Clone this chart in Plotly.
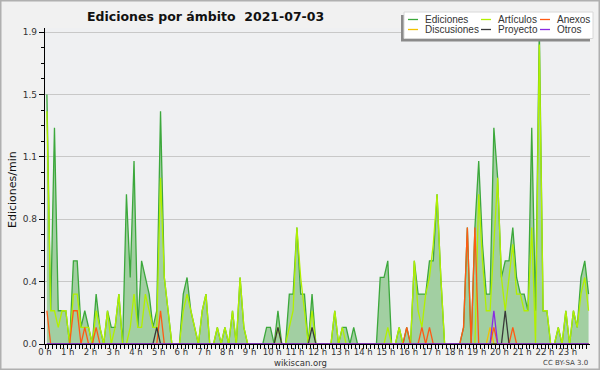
import plotly.graph_objects as go

# ---- data: edits per minute, 10-minute bins (bin centre in minutes) ----
bin_minutes = list(range(5, 1440, 10))

ediciones = [
    1.5, 0.2, 1.3, 0.2, 0.2, 0.2,   # 0 h
    0.0, 0.5, 0.5, 0.1, 0.2, 0.1,   # 1 h
    0.0, 0.3, 0.1, 0.0, 0.2, 0.1,   # 2 h
    0.1, 0.3, 0.0, 0.9, 0.4, 1.1,   # 3 h
    0.1, 0.5, 0.4, 0.3, 0.1, 0.2,   # 4 h
    1.4, 0.4, 0.2, 0.0, 0.0, 0.0,   # 5 h
    0.3, 0.4, 0.2, 0.1, 0.0, 0.2,   # 6 h
    0.3, 0.0, 0.0, 0.1, 0.0, 0.1,   # 7 h
    0.0, 0.2, 0.0, 0.4, 0.1, 0.0,   # 8 h
    0.0, 0.0, 0.0, 0.0, 0.1, 0.1,   # 9 h
    0.0, 0.2, 0.0, 0.0, 0.3, 0.3,   # 10 h
    0.7, 0.3, 0.3, 0.0, 0.3, 0.0,   # 11 h
    0.0, 0.0, 0.0, 0.0, 0.2, 0.0,   # 12 h
    0.1, 0.1, 0.0, 0.1, 0.0, 0.0,   # 13 h
    0.0, 0.0, 0.0, 0.0, 0.4, 0.4,   # 14 h
    0.5, 0.0, 0.0, 0.1, 0.0, 0.1,   # 15 h
    0.0, 0.5, 0.3, 0.3, 0.3, 0.5,   # 16 h
    0.5, 0.9, 0.4, 0.0, 0.0, 0.0,   # 17 h
    0.0, 0.0, 0.1, 0.7, 0.0, 0.7,   # 18 h
    1.1, 0.6, 0.3, 0.3, 1.3, 1.0,   # 19 h
    0.4, 0.5, 0.5, 0.7, 0.4, 0.3,   # 20 h
    0.3, 0.2, 1.3, 0.2, 1.9, 0.2,   # 21 h
    0.2, 0.0, 0.0, 0.1, 0.0, 0.2,   # 22 h
    0.0, 0.2, 0.1, 0.4, 0.5, 0.3,   # 23 h
]

articulos = [
    1.4, 0.2, 0.2, 0.1, 0.2, 0.2,
    0.0, 0.3, 0.3, 0.1, 0.1, 0.1,
    0.0, 0.2, 0.1, 0.0, 0.2, 0.0,
    0.1, 0.3, 0.0, 0.0, 0.1, 0.3,
    0.1, 0.1, 0.3, 0.2, 0.1, 0.1,
    1.0, 0.4, 0.2, 0.0, 0.0, 0.0,
    0.2, 0.3, 0.2, 0.1, 0.0, 0.2,
    0.3, 0.0, 0.0, 0.1, 0.0, 0.1,
    0.0, 0.2, 0.0, 0.4, 0.1, 0.0,
    0.0, 0.0, 0.0, 0.0, 0.0, 0.0,
    0.0, 0.1, 0.0, 0.0, 0.1, 0.2,
    0.7, 0.4, 0.2, 0.0, 0.2, 0.0,
    0.0, 0.0, 0.0, 0.0, 0.2, 0.0,
    0.1, 0.0, 0.0, 0.0, 0.0, 0.0,
    0.0, 0.0, 0.0, 0.0, 0.0, 0.0,
    0.1, 0.0, 0.0, 0.1, 0.0, 0.0,
    0.0, 0.5, 0.2, 0.1, 0.3, 0.4,
    0.6, 0.9, 0.4, 0.0, 0.0, 0.0,
    0.0, 0.0, 0.0, 0.0, 0.0, 0.0,
    0.9, 0.5, 0.2, 0.2, 0.6, 1.0,
    0.4, 0.2, 0.4, 0.6, 0.3, 0.3,
    0.2, 0.2, 0.7, 0.0, 1.8, 0.2,
    0.2, 0.0, 0.0, 0.1, 0.0, 0.2,
    0.0, 0.2, 0.1, 0.3, 0.4, 0.2,
]

anexos = [
    0.2, 0.0, 0.0, 0.0, 0.0, 0.0,
    0.0, 0.2, 0.2, 0.0, 0.1, 0.0,
    0.0, 0.1, 0.0, 0.0, 0.0, 0.0,
    0.0, 0.0, 0.0, 0.0, 0.0, 0.0,
    0.0, 0.0, 0.0, 0.0, 0.0, 0.0,
    0.2, 0.0, 0.0, 0.0, 0.0, 0.0,
    0.0, 0.0, 0.0, 0.0, 0.0, 0.0,
    0.0, 0.0, 0.0, 0.0, 0.0, 0.0,
    0.0, 0.0, 0.0, 0.0, 0.0, 0.0,
    0.0, 0.0, 0.0, 0.0, 0.0, 0.0,
    0.0, 0.0, 0.0, 0.0, 0.0, 0.0,
    0.0, 0.0, 0.0, 0.0, 0.0, 0.0,
    0.0, 0.0, 0.0, 0.0, 0.0, 0.0,
    0.0, 0.0, 0.0, 0.0, 0.0, 0.0,
    0.0, 0.0, 0.0, 0.0, 0.0, 0.0,
    0.0, 0.0, 0.0, 0.0, 0.0, 0.1,
    0.0, 0.0, 0.0, 0.1, 0.0, 0.1,
    0.0, 0.0, 0.0, 0.0, 0.0, 0.0,
    0.0, 0.0, 0.1, 0.7, 0.0, 0.7,
    0.0, 0.0, 0.0, 0.0, 0.1, 0.0,
    0.0, 0.0, 0.0, 0.1, 0.0, 0.0,
    0.0, 0.0, 0.0, 0.0, 0.0, 0.0,
    0.0, 0.0, 0.0, 0.0, 0.0, 0.0,
    0.0, 0.0, 0.0, 0.0, 0.0, 0.0,
]

discusiones = [
    0.0, 0.0, 0.0, 0.0, 0.0, 0.0,
    0.0, 0.0, 0.0, 0.0, 0.0, 0.0,
    0.0, 0.0, 0.0, 0.0, 0.0, 0.0,
    0.0, 0.0, 0.0, 0.0, 0.0, 0.0,
    0.0, 0.0, 0.0, 0.0, 0.0, 0.0,
    0.0, 0.0, 0.0, 0.0, 0.0, 0.0,
    0.0, 0.0, 0.0, 0.0, 0.0, 0.0,
    0.0, 0.0, 0.0, 0.0, 0.0, 0.0,
    0.0, 0.0, 0.0, 0.0, 0.0, 0.0,
    0.0, 0.0, 0.0, 0.0, 0.0, 0.0,
    0.0, 0.0, 0.0, 0.0, 0.0, 0.0,
    0.0, 0.0, 0.0, 0.0, 0.0, 0.0,
    0.0, 0.0, 0.0, 0.0, 0.0, 0.0,
    0.0, 0.0, 0.0, 0.0, 0.0, 0.0,
    0.0, 0.0, 0.0, 0.0, 0.0, 0.0,
    0.0, 0.0, 0.0, 0.0, 0.0, 0.0,
    0.0, 0.0, 0.0, 0.0, 0.0, 0.0,
    0.0, 0.0, 0.0, 0.0, 0.0, 0.0,
    0.0, 0.0, 0.0, 0.0, 0.0, 0.0,
    0.0, 0.0, 0.0, 0.1, 0.0, 0.0,
    0.0, 0.0, 0.0, 0.0, 0.0, 0.0,
    0.0, 0.0, 0.0, 0.0, 0.0, 0.0,
    0.0, 0.0, 0.0, 0.0, 0.0, 0.0,
    0.0, 0.0, 0.0, 0.0, 0.0, 0.0,
]

proyecto = [
    0.0, 0.0, 0.0, 0.0, 0.0, 0.0,
    0.0, 0.0, 0.0, 0.0, 0.0, 0.0,
    0.0, 0.0, 0.0, 0.0, 0.0, 0.0,
    0.0, 0.0, 0.0, 0.0, 0.0, 0.0,
    0.0, 0.0, 0.0, 0.0, 0.0, 0.1,
    0.0, 0.0, 0.0, 0.0, 0.0, 0.0,
    0.0, 0.0, 0.0, 0.0, 0.0, 0.0,
    0.0, 0.0, 0.0, 0.0, 0.0, 0.0,
    0.0, 0.0, 0.0, 0.0, 0.0, 0.0,
    0.0, 0.0, 0.0, 0.0, 0.0, 0.0,
    0.0, 0.1, 0.0, 0.0, 0.0, 0.0,
    0.0, 0.0, 0.0, 0.0, 0.1, 0.0,
    0.0, 0.0, 0.0, 0.0, 0.0, 0.0,
    0.0, 0.0, 0.0, 0.0, 0.0, 0.0,
    0.0, 0.0, 0.0, 0.0, 0.0, 0.0,
    0.0, 0.0, 0.0, 0.0, 0.0, 0.0,
    0.0, 0.0, 0.0, 0.0, 0.0, 0.0,
    0.0, 0.0, 0.0, 0.0, 0.0, 0.0,
    0.0, 0.0, 0.0, 0.0, 0.0, 0.0,
    0.0, 0.0, 0.0, 0.0, 0.0, 0.0,
    0.0, 0.2, 0.0, 0.0, 0.0, 0.0,
    0.0, 0.0, 0.0, 0.0, 0.0, 0.0,
    0.0, 0.0, 0.0, 0.0, 0.0, 0.0,
    0.0, 0.0, 0.0, 0.0, 0.0, 0.0,
]

otros = [
    0.0, 0.0, 0.0, 0.0, 0.0, 0.0,
    0.0, 0.0, 0.0, 0.0, 0.0, 0.0,
    0.0, 0.0, 0.0, 0.0, 0.0, 0.0,
    0.0, 0.0, 0.0, 0.0, 0.0, 0.0,
    0.0, 0.0, 0.0, 0.0, 0.0, 0.0,
    0.0, 0.0, 0.0, 0.0, 0.0, 0.0,
    0.0, 0.0, 0.0, 0.0, 0.0, 0.0,
    0.0, 0.0, 0.0, 0.0, 0.0, 0.0,
    0.0, 0.0, 0.0, 0.0, 0.0, 0.0,
    0.0, 0.0, 0.0, 0.0, 0.0, 0.0,
    0.0, 0.0, 0.0, 0.0, 0.0, 0.0,
    0.0, 0.0, 0.0, 0.0, 0.0, 0.0,
    0.0, 0.0, 0.0, 0.0, 0.0, 0.0,
    0.0, 0.0, 0.0, 0.0, 0.0, 0.0,
    0.0, 0.0, 0.0, 0.0, 0.0, 0.0,
    0.0, 0.0, 0.0, 0.0, 0.0, 0.0,
    0.0, 0.0, 0.0, 0.0, 0.0, 0.0,
    0.0, 0.0, 0.0, 0.0, 0.0, 0.0,
    0.0, 0.0, 0.0, 0.0, 0.0, 0.0,
    0.0, 0.0, 0.0, 0.0, 0.2, 0.0,
    0.0, 0.0, 0.0, 0.0, 0.0, 0.0,
    0.0, 0.0, 0.0, 0.0, 0.0, 0.0,
    0.0, 0.0, 0.0, 0.0, 0.0, 0.0,
    0.0, 0.0, 0.0, 0.0, 0.0, 0.0,
]

series_colors = {
    "Ediciones": "#3ca83c",
    "Artículos": "#b2f000",
    "Anexos": "#ff5a14",
    "Discusiones": "#f2c200",
    "Proyecto": "#383838",
    "Otros": "#8a2be2",
}
series_values = {
    "Ediciones": ediciones,
    "Artículos": articulos,
    "Anexos": anexos,
    "Discusiones": discusiones,
    "Proyecto": proyecto,
    "Otros": otros,
}

title_text = "Ediciones por ámbito \u00a02021-07-03"
y_title = "Ediciones/min"

x_hours = [m / 60 for m in bin_minutes]

fig = go.Figure()
fig.add_trace(go.Scatter(
    x=x_hours, y=ediciones, mode="lines", name="Ediciones",
    line=dict(color=series_colors["Ediciones"], width=1.3),
    fill="tozeroy", fillcolor="#a2cfa2", hoverinfo="skip",
))
for name in ["Artículos", "Discusiones", "Anexos", "Proyecto", "Otros"]:
    fig.add_trace(go.Scatter(
        x=x_hours, y=series_values[name], mode="lines", name=name,
        line=dict(color=series_colors[name], width=1.3), hoverinfo="skip",
    ))

# plot-area geometry (pixels) for paper-coordinate decorations
L, R, T, B = 45, 590, 28, 344
def px(xp):
    return (xp - L) / (R - L)
def py(yp):
    return (B - yp) / (B - T)

shapes = []
annotations = []

# outer border of the image
shapes.append(dict(type="rect", xref="paper", yref="paper",
                   x0=px(0.75), x1=px(599.25), y0=py(0.75), y1=py(369.25),
                   line=dict(color="#b0b0b0", width=1.5), fillcolor="rgba(0,0,0,0)", layer="above"))

# legend box with shadow
shapes.append(dict(type="rect", xref="paper", yref="paper",
                   x0=px(401), x1=px(590), y0=py(15), y1=py(41.5),
                   line=dict(width=0), fillcolor="#8a8a8a", layer="above"))
shapes.append(dict(type="rect", xref="paper", yref="paper",
                   x0=px(404), x1=px(593), y0=py(12), y1=py(38.5),
                   line=dict(color="#d8d8d8", width=1), fillcolor="#ffffff", layer="above"))

legend_cols = [(408, 418, 423), (481, 491, 496), (540, 550, 555)]
legend_rows = [19.5, 29.5]
legend_layout = [["Ediciones", "Artículos", "Anexos"],
                 ["Discusiones", "Proyecto", "Otros"]]
for r, row in enumerate(legend_layout):
    for c, name in enumerate(row):
        x0, x1, xt = legend_cols[c]
        yy = legend_rows[r]
        shapes.append(dict(type="line", xref="paper", yref="paper",
                           x0=px(x0), x1=px(x1), y0=py(yy), y1=py(yy),
                           line=dict(color=series_colors[name], width=1.3), layer="above"))
        annotations.append(dict(xref="paper", yref="paper", x=px(xt), y=py(yy),
                                text=name, showarrow=False, xanchor="left", yanchor="middle",
                                font=dict(family="Liberation Sans", size=10, color="#333333")))

# y-axis title
annotations.append(dict(xref="paper", yref="paper", x=px(12), y=py(190),
                        text=y_title, showarrow=False, textangle=-90,
                        xanchor="center", yanchor="middle",
                        font=dict(family="DejaVu Sans", size=11, color="#111111")))
# footer texts
annotations.append(dict(xref="paper", yref="paper", x=px(300), y=py(363),
                        text="wikiscan.org", showarrow=False, xanchor="center", yanchor="middle",
                        font=dict(family="DejaVu Sans", size=8.5, color="#333333")))
annotations.append(dict(xref="paper", yref="paper", x=px(590), y=py(363),
                        text="CC BY-SA 3.0", showarrow=False, xanchor="right", yanchor="middle",
                        font=dict(family="DejaVu Sans", size=7, color="#444444")))
# title
annotations.append(dict(xref="paper", yref="paper", x=px(85), y=py(16),
                        text="<b>" + title_text + "</b>", showarrow=False,
                        xanchor="left", yanchor="middle",
                        font=dict(family="DejaVu Sans", size=12.5, color="#111111")))

fig.update_layout(
    width=600, height=370,
    margin=dict(l=L, r=600 - R, t=T, b=370 - B, autoexpand=False),
    paper_bgcolor="#f1f1f1", plot_bgcolor="#eff0f2",
    showlegend=False,
    font=dict(family="DejaVu Sans", size=9, color="#333333"),
    shapes=shapes, annotations=annotations,
)
fig.update_xaxes(
    range=[0, 23.98], tickmode="linear", tick0=0, dtick=1, ticksuffix=" h",
    ticks="outside", ticklen=4, tickcolor="black", tickwidth=1,
    ticklabelstandoff=-4, automargin=False,
    showline=True, linecolor="black", linewidth=1.2,
    showgrid=False, zeroline=False,
    tickfont=dict(family="DejaVu Sans", size=8.5, color="#333333"),
    minor=dict(tick0=0, dtick=1 / 6, ticks="outside", ticklen=4, tickcolor="black", tickwidth=1, showgrid=False),
)
fig.update_yaxes(
    range=[0, 1.9], tickmode="linear", tick0=0, dtick=0.375, tickformat=".1f",
    ticks="outside", ticklen=5, tickcolor="black", tickwidth=1, automargin=False,
    showline=True, linecolor="black", linewidth=1.2,
    showgrid=True, gridcolor="#c8c8c8", gridwidth=1, zeroline=False,
    tickfont=dict(family="DejaVu Sans", size=9, color="#333333"),
    minor=dict(tick0=0, dtick=0.09375, ticks="outside", ticklen=3, tickcolor="black", tickwidth=1, showgrid=False),
)

fig.write_html(
    "out.html",
    config={"displayModeBar": False},
    post_script="document.body.style.margin='0';document.body.style.overflow='hidden';",
)
